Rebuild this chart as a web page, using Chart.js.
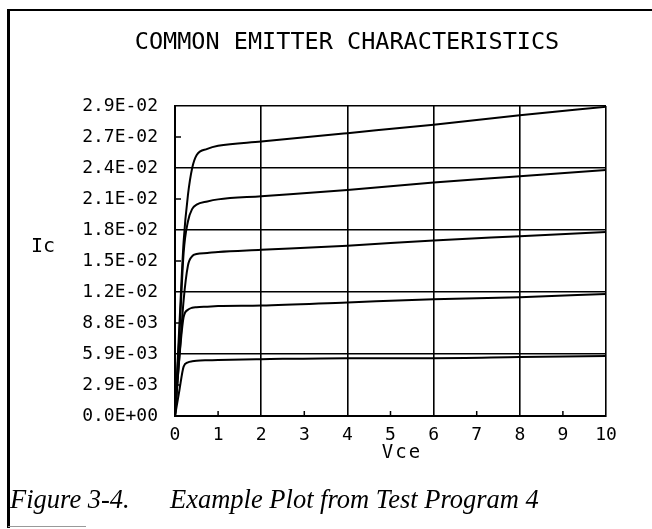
<!DOCTYPE html>
<html lang="en">
<head>
<meta charset="UTF-8">
<title>Common Emitter Characteristics</title>
<script src="https://cdn.jsdelivr.net/npm/chart.js"></script>
<style>
    body { margin: 0; background: #fff; }
    #frame { position: relative; width: 652px; height: 529px; overflow: hidden; }
    #chart-box { position: absolute; left: 0; top: 0; width: 652px; height: 529px; }
    .edge { position: absolute; background: #000; }
    .caption { position: absolute; top: 486px; font: italic 26.5px "Liberation Serif", serif; line-height: 26px; color: #000; white-space: nowrap; }
</style>
</head>
<body>
<div id="frame">
    <div id="chart-box"><canvas id="ce-chart"></canvas></div>
    <div class="edge" style="left:8px; top:9px; width:644px; height:2px"></div>
    <div class="edge" style="left:7px; top:9px; width:3px; height:519px"></div>
    <div class="edge" style="left:8px; top:526px; width:78px; height:1px; background:#999"></div>
    <span class="caption" style="left:10px">Figure 3-4.</span>
    <span class="caption" style="left:170px">Example Plot from Test Program 4</span>
</div>
<script>
    // Vce sample points (volts), shared by all curves
    const vce = [0, 0.1, 0.2, 0.3, 0.4, 0.5, 0.75, 1, 2, 4, 6, 8, 10];

    // Ic curves (amps), top curve first
    const ic1 = [0, 0.0085, 0.0166, 0.0210, 0.0236, 0.0248, 0.0254, 0.0257, 0.0261, 0.0269, 0.0277, 0.0286, 0.0294];
    const ic2 = [0, 0.0075, 0.0155, 0.0185, 0.0197, 0.0201, 0.0204, 0.0206, 0.0209, 0.0215, 0.0222, 0.0228, 0.0234];
    const ic3 = [0, 0.0055, 0.0110, 0.0143, 0.0152, 0.0154, 0.0155, 0.0156, 0.0158, 0.0162, 0.0167, 0.0171, 0.0175];
    const ic4 = [0, 0.0055, 0.0094, 0.0101, 0.0103, 0.01035, 0.0104, 0.01045, 0.0105, 0.0108, 0.0111, 0.0113, 0.0116];
    const ic5 = [0, 0.0024, 0.0047, 0.0051, 0.0052, 0.00525, 0.0053, 0.00533, 0.0054, 0.0055, 0.0055, 0.0056, 0.0057];

    // axis ticks
    const xTicks = [0, 1, 2, 3, 4, 5, 6, 7, 8, 9, 10];
    const xTickLabels = ['0', '1', '2', '3', '4', '5', '6', '7', '8', '9', '10'];
    const yTicks = [0, 0.002948, 0.005896, 0.008844, 0.011792, 0.01474, 0.017688, 0.020636, 0.023584, 0.026532, 0.02948];
    const yTickLabels = ['0.0E+00', '2.9E-03', '5.9E-03', '8.8E-03', '1.2E-02', '1.5E-02',
                         '1.8E-02', '2.1E-02', '2.4E-02', '2.7E-02', '2.9E-02'];

    const titleText = 'COMMON EMITTER CHARACTERISTICS';
    const xTitle = 'Vce';
    const yTitle = 'Ic';

    const mono = '"DejaVu Sans Mono", monospace';
    const curves = [ic1, ic2, ic3, ic4, ic5];

    // title, axis names and the short inner tick marks on odd ticks
    const plotMarks = {
        id: 'plotMarks',
        afterDraw(chart) {
            const { ctx, scales: { x, y } } = chart;
            ctx.save();
            ctx.strokeStyle = '#000';
            ctx.lineWidth = 1.5;
            ctx.beginPath();
            xTicks.forEach((v, i) => {
                if (i % 2 === 0) return;
                const px = x.getPixelForValue(v);
                ctx.moveTo(px, y.bottom);
                ctx.lineTo(px, y.bottom - 5);
            });
            yTicks.forEach((v, i) => {
                if (i % 2 === 0) return;
                const py = y.getPixelForValue(v);
                ctx.moveTo(x.left, py);
                ctx.lineTo(x.left + 6, py);
            });
            ctx.stroke();

            ctx.fillStyle = '#000';
            ctx.textBaseline = 'middle';
            ctx.textAlign = 'center';
            ctx.font = '23.5px ' + mono;
            ctx.fillText(titleText, 347, 43);
            ctx.font = '19px ' + mono;
            ctx.letterSpacing = '2px';
            ctx.fillText(xTitle, 402, 453);
            ctx.letterSpacing = '0px';
            ctx.textAlign = 'left';
            ctx.font = '20px ' + mono;
            ctx.fillText(yTitle, 31, 247);
            ctx.restore();
        }
    };

    const gridColor = ctx => ctx.index % 2 === 0 ? '#000' : 'rgba(0,0,0,0)';

    new Chart(document.getElementById('ce-chart'), {
        type: 'line',
        data: {
            datasets: curves.map(ic => ({
                data: vce.map((v, i) => ({ x: v, y: ic[i] })),
                borderColor: '#000',
                borderWidth: 2,
                pointRadius: 0,
                fill: false,
                cubicInterpolationMode: 'monotone'
            }))
        },
        options: {
            responsive: true,
            maintainAspectRatio: false,
            animation: false,
            layout: { padding: { left: 0, right: 46, top: 106, bottom: 53 } },
            plugins: {
                legend: { display: false },
                tooltip: { enabled: false },
                title: { display: false }
            },
            scales: {
                x: {
                    type: 'linear',
                    min: 0,
                    max: 10,
                    afterBuildTicks: scale => { scale.ticks = xTicks.map(v => ({ value: v })); },
                    afterFit: scale => { scale.height = 60; },
                    ticks: {
                        callback: (v, i) => xTickLabels[i],
                        color: '#000',
                        font: { family: mono, size: 18 },
                        padding: 9,
                        autoSkip: false,
                        maxRotation: 0
                    },
                    grid: { color: gridColor, lineWidth: 1.6, drawTicks: false },
                    border: { color: '#000', width: 2 }
                },
                y: {
                    type: 'linear',
                    min: 0,
                    max: 0.02948,
                    afterBuildTicks: scale => { scale.ticks = yTicks.map(v => ({ value: v })); },
                    afterFit: scale => { scale.width = 175; },
                    ticks: {
                        callback: (v, i) => yTickLabels[i],
                        color: '#000',
                        font: { family: mono, size: 18 },
                        padding: 17,
                        autoSkip: false
                    },
                    grid: { color: gridColor, lineWidth: 1.6, drawTicks: false },
                    border: { color: '#000', width: 2 }
                }
            }
        },
        plugins: [plotMarks]
    });
</script>
</body>
</html>
